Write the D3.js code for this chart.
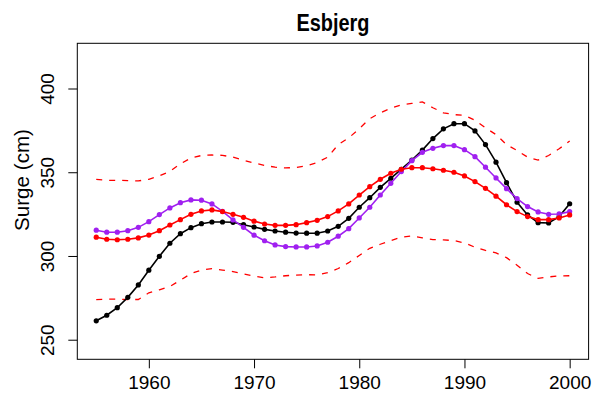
<!DOCTYPE html>
<html>
<head>
<meta charset="utf-8">
<script src="https://cdn.jsdelivr.net/npm/d3@7"></script>
<style>
  html, body { margin: 0; padding: 0; background: #fff; }
  svg { display: block; }
  text { font-family: "Liberation Sans", Arial, sans-serif; fill: #000; }
</style>
</head>
<body>
<svg id="chart" width="592" height="404"></svg>
<script>
const years = d3.range(1955, 2001);
const observed = [261.3,264.6,269.1,275.3,282.7,291.5,299.8,307.6,313.3,316.9,319.3,320.3,320.3,320.1,318.7,317.3,
  315.9,314.9,314.2,313.7,313.6,313.6,314.9,317.7,322.5,329.1,334.8,341.0,346.4,351.8,357.3,363.2,370.1,375.9,379.0,379.0,
  374.7,366.5,356.0,343.8,332.1,324.5,319.9,319.7,323.5,331.2];
const modelPurple = [315.4,314.2,314.2,315.1,317.1,320.5,324.7,328.7,331.8,333.5,333.3,331.1,326.6,321.5,317.1,312.4,
  309.1,306.6,305.6,305.4,305.4,306.0,308.2,311.8,316.3,322.7,329.1,336.4,343.4,350.4,356.9,361.9,364.3,365.9,365.9,363.5,
  359.3,353.0,346.6,340.2,334.3,329.5,326.3,324.9,325.1,326.5];
const modelRed = [311.2,310.0,309.7,310.0,310.8,312.5,315.1,318.5,321.7,324.9,326.9,327.5,326.5,324.9,323.1,320.8,
  319.1,318.3,318.3,318.7,319.9,321.3,323.5,326.9,331.1,336.4,341.4,345.8,349.4,351.8,352.7,352.7,352.1,351.2,350.0,347.8,
  344.4,340.4,335.7,330.6,326.5,323.5,321.7,321.7,322.7,324.5];
const upperBound = [345.8,345.2,345.2,345.0,344.8,345.8,347.8,350.5,355.0,358.5,360.0,360.3,360.1,359.0,357.2,355.5,
  354.1,353.0,352.6,352.8,353.9,355.8,359.0,366.5,370.5,376.0,382.0,385.5,388.2,390.3,391.1,392.0,388.5,385.5,384.4,384.0,
  381.0,376.5,372.5,366.5,363.0,359.0,357.3,360.0,364.0,368.7];
const lowerBound = [273.9,274.2,274.2,274.0,274.0,278.0,279.8,281.8,285.5,289.5,291.6,292.4,291.6,290.7,289.3,288.0,
  287.0,287.5,288.2,288.6,288.8,288.7,290.0,292.5,296.0,300.3,304.6,307.0,309.2,311.2,312.0,310.8,309.8,309.6,309.2,307.8,
  305.2,303.3,301.8,299.0,294.5,289.5,286.6,287.5,288.1,288.2];
const xTicks = [1960, 1970, 1980, 1990, 2000];
const yTicks = [250, 300, 350, 400];
const title = "Esbjerg";
const yLabel = "Surge (cm)";

const svg = d3.select("#chart");
const L = 77.3, R = 588.6, T = 43.3, B = 359.3;
const x = d3.scaleLinear().domain([1953.2, 2001.8]).range([L, R]);
const y = d3.scaleLinear().domain([238.3, 427]).range([B, T]);

// axes
const xAxis = svg.append("g").attr("transform", `translate(0,${B})`)
  .call(d3.axisBottom(x).tickValues(xTicks).tickFormat(d3.format("d")).tickSize(9).tickPadding(7));
const yAxis = svg.append("g").attr("transform", `translate(${L},0)`)
  .call(d3.axisLeft(y).tickValues(yTicks).tickSize(9).tickPadding(6));
[xAxis, yAxis].forEach(a => {
  a.select(".domain").remove();
  a.selectAll("line").attr("stroke", "#000").attr("stroke-width", 1);
  a.selectAll("text").style("font-size", "19px").attr("fill", "#000");
});
yAxis.selectAll(".tick text")
  .attr("text-anchor", "middle")
  .attr("x", 0).attr("dy", 0)
  .attr("transform", "translate(-23,0) rotate(-90)");
xAxis.selectAll(".tick text").attr("dy", "0.71em");

// title and labels
svg.append("text").attr("x", (L + R) / 2).attr("y", 31).attr("text-anchor", "middle")
  .style("font-size", "23px").style("font-weight", "bold")
  .attr("textLength", 73).attr("lengthAdjust", "spacingAndGlyphs").text(title);
svg.append("text").attr("transform", `translate(29,180) rotate(-90)`)
  .attr("text-anchor", "middle").style("font-size", "21px")
  .attr("textLength", 102).attr("lengthAdjust", "spacingAndGlyphs").text(yLabel);

const line = d3.line().x((d, i) => x(years[i])).y(d => y(d));

// bounds
[upperBound, lowerBound].forEach(arr => {
  svg.append("path").datum(arr).attr("d", line).attr("fill", "none")
    .attr("stroke", "#FF0000").attr("stroke-width", 1.3).attr("stroke-dasharray", "6,7");
});

// series
const series = [
  { data: observed, color: "#000000" },
  { data: modelPurple, color: "#A020F0" },
  { data: modelRed, color: "#FF0000" }
];
series.forEach(s => {
  svg.append("path").datum(s.data).attr("d", line).attr("fill", "none")
    .attr("stroke", s.color).attr("stroke-width", 1.6);
  svg.append("g").selectAll("circle").data(s.data).join("circle")
    .attr("cx", (d, i) => x(years[i])).attr("cy", d => y(d)).attr("r", 2.6)
    .attr("fill", s.color);
});

// box
svg.append("rect").attr("x", L).attr("y", T).attr("width", R - L).attr("height", B - T)
  .attr("fill", "none").attr("stroke", "#000").attr("stroke-width", 1);
</script>
</body>
</html>
